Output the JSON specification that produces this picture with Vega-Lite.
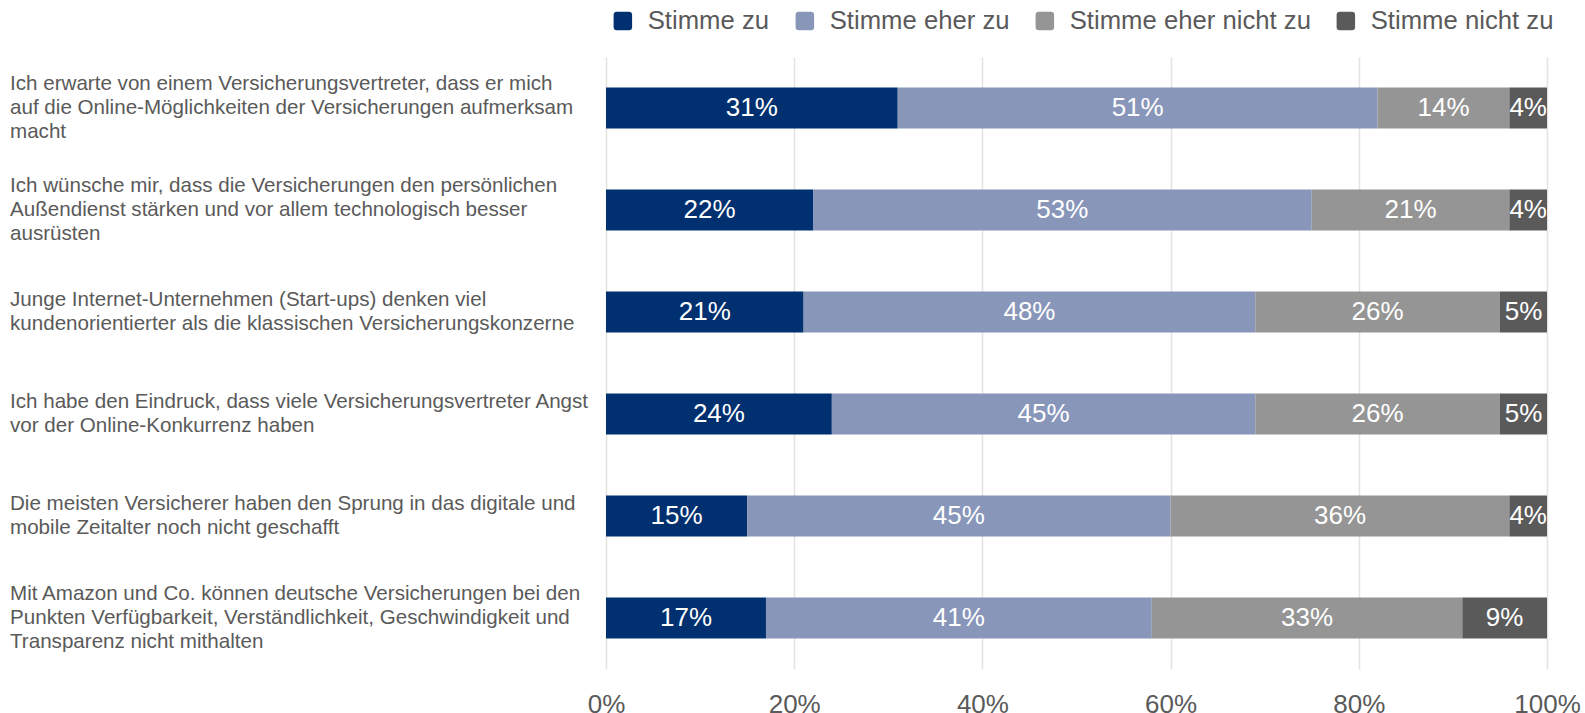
{
  "$schema": "https://vega.github.io/schema/vega-lite/v6.json",
  "width": 941,
  "height": 612,
  "autosize": "none",
  "padding": {"left": 606, "top": 57, "right": 38, "bottom": 44},
  "background": "white",
  "config": {
    "view": {"stroke": null},
    "font": "Liberation Sans"
  },
  "data": {
    "values": [
      {"frage": "Ich erwarte von einem Versicherungsvertreter, dass er mich\nauf die Online-Möglichkeiten der Versicherungen aufmerksam\nmacht", "antwort": "Stimme zu", "o": 1, "wert": 31},
      {"frage": "Ich erwarte von einem Versicherungsvertreter, dass er mich\nauf die Online-Möglichkeiten der Versicherungen aufmerksam\nmacht", "antwort": "Stimme eher zu", "o": 2, "wert": 51},
      {"frage": "Ich erwarte von einem Versicherungsvertreter, dass er mich\nauf die Online-Möglichkeiten der Versicherungen aufmerksam\nmacht", "antwort": "Stimme eher nicht zu", "o": 3, "wert": 14},
      {"frage": "Ich erwarte von einem Versicherungsvertreter, dass er mich\nauf die Online-Möglichkeiten der Versicherungen aufmerksam\nmacht", "antwort": "Stimme nicht zu", "o": 4, "wert": 4},
      {"frage": "Ich wünsche mir, dass die Versicherungen den persönlichen\nAußendienst stärken und vor allem technologisch besser\nausrüsten", "antwort": "Stimme zu", "o": 1, "wert": 22},
      {"frage": "Ich wünsche mir, dass die Versicherungen den persönlichen\nAußendienst stärken und vor allem technologisch besser\nausrüsten", "antwort": "Stimme eher zu", "o": 2, "wert": 53},
      {"frage": "Ich wünsche mir, dass die Versicherungen den persönlichen\nAußendienst stärken und vor allem technologisch besser\nausrüsten", "antwort": "Stimme eher nicht zu", "o": 3, "wert": 21},
      {"frage": "Ich wünsche mir, dass die Versicherungen den persönlichen\nAußendienst stärken und vor allem technologisch besser\nausrüsten", "antwort": "Stimme nicht zu", "o": 4, "wert": 4},
      {"frage": "Junge Internet-Unternehmen (Start-ups) denken viel\nkundenorientierter als die klassischen Versicherungskonzerne", "antwort": "Stimme zu", "o": 1, "wert": 21},
      {"frage": "Junge Internet-Unternehmen (Start-ups) denken viel\nkundenorientierter als die klassischen Versicherungskonzerne", "antwort": "Stimme eher zu", "o": 2, "wert": 48},
      {"frage": "Junge Internet-Unternehmen (Start-ups) denken viel\nkundenorientierter als die klassischen Versicherungskonzerne", "antwort": "Stimme eher nicht zu", "o": 3, "wert": 26},
      {"frage": "Junge Internet-Unternehmen (Start-ups) denken viel\nkundenorientierter als die klassischen Versicherungskonzerne", "antwort": "Stimme nicht zu", "o": 4, "wert": 5},
      {"frage": "Ich habe den Eindruck, dass viele Versicherungsvertreter Angst\nvor der Online-Konkurrenz haben", "antwort": "Stimme zu", "o": 1, "wert": 24},
      {"frage": "Ich habe den Eindruck, dass viele Versicherungsvertreter Angst\nvor der Online-Konkurrenz haben", "antwort": "Stimme eher zu", "o": 2, "wert": 45},
      {"frage": "Ich habe den Eindruck, dass viele Versicherungsvertreter Angst\nvor der Online-Konkurrenz haben", "antwort": "Stimme eher nicht zu", "o": 3, "wert": 26},
      {"frage": "Ich habe den Eindruck, dass viele Versicherungsvertreter Angst\nvor der Online-Konkurrenz haben", "antwort": "Stimme nicht zu", "o": 4, "wert": 5},
      {"frage": "Die meisten Versicherer haben den Sprung in das digitale und\nmobile Zeitalter noch nicht geschafft", "antwort": "Stimme zu", "o": 1, "wert": 15},
      {"frage": "Die meisten Versicherer haben den Sprung in das digitale und\nmobile Zeitalter noch nicht geschafft", "antwort": "Stimme eher zu", "o": 2, "wert": 45},
      {"frage": "Die meisten Versicherer haben den Sprung in das digitale und\nmobile Zeitalter noch nicht geschafft", "antwort": "Stimme eher nicht zu", "o": 3, "wert": 36},
      {"frage": "Die meisten Versicherer haben den Sprung in das digitale und\nmobile Zeitalter noch nicht geschafft", "antwort": "Stimme nicht zu", "o": 4, "wert": 4},
      {"frage": "Mit Amazon und Co. können deutsche Versicherungen bei den\nPunkten Verfügbarkeit, Verständlichkeit, Geschwindigkeit und\nTransparenz nicht mithalten", "antwort": "Stimme zu", "o": 1, "wert": 17},
      {"frage": "Mit Amazon und Co. können deutsche Versicherungen bei den\nPunkten Verfügbarkeit, Verständlichkeit, Geschwindigkeit und\nTransparenz nicht mithalten", "antwort": "Stimme eher zu", "o": 2, "wert": 41},
      {"frage": "Mit Amazon und Co. können deutsche Versicherungen bei den\nPunkten Verfügbarkeit, Verständlichkeit, Geschwindigkeit und\nTransparenz nicht mithalten", "antwort": "Stimme eher nicht zu", "o": 3, "wert": 33},
      {"frage": "Mit Amazon und Co. können deutsche Versicherungen bei den\nPunkten Verfügbarkeit, Verständlichkeit, Geschwindigkeit und\nTransparenz nicht mithalten", "antwort": "Stimme nicht zu", "o": 4, "wert": 9}
    ]
  },
  "encoding": {
    "y": {
      "field": "frage",
      "type": "nominal",
      "sort": null,
      "title": null,
      "scale": {"paddingInner": 0.6, "paddingOuter": 0.3},
      "axis": null
    }
  },
  "layer": [
    {
      "mark": {"type": "bar"},
      "encoding": {
        "x": {
          "field": "wert",
          "type": "quantitative",
          "stack": "zero",
          "title": null,
          "scale": {"domain": [0, 100], "nice": false},
          "axis": {
            "values": [0, 20, 40, 60, 80, 100],
            "labelExpr": "datum.value + '%'",
            "ticks": false,
            "domain": false,
            "grid": true,
            "gridColor": "#e3e3e3",
            "gridWidth": 1.5,
            "labelPadding": 22,
            "labelFontSize": 26,
            "labelColor": "#5a5a5a",
            "labelFont": "Liberation Sans",
            "labelFlush": false
          }
        },
        "order": {"field": "o", "type": "quantitative"},
        "color": {
          "field": "antwort",
          "type": "nominal",
          "title": null,
          "scale": {
            "domain": ["Stimme zu", "Stimme eher zu", "Stimme eher nicht zu", "Stimme nicht zu"],
            "range": ["#00306f", "#8896ba", "#959595", "#5a5a5a"]
          },
          "legend": {
            "orient": "none",
            "direction": "horizontal",
            "legendX": 4,
            "legendY": -49,
            "symbolType": "M-0.65,-1L0.65,-1Q1,-1 1,-0.65L1,0.65Q1,1 0.65,1L-0.65,1Q-1,1 -1,0.65L-1,-0.65Q-1,-1 -0.65,-1Z",
            "symbolSize": 342,
            "symbolStrokeWidth": 0,
            "labelFontSize": 25.7,
            "labelFont": "Liberation Sans",
            "labelColor": "#5a5a5a",
            "labelOffset": 12,
            "columnPadding": 22,
            "labelLimit": 400,
            "encode": {
              "symbols": {
                "update": {
                  "fill": [
                    {"test": "datum.value === 'Stimme zu'", "value": "#0a4a8c"},
                    {"scale": "color", "field": "value"}
                  ]
                }
              }
            }
          }
        }
      }
    },
    {
      "mark": {"type": "text", "color": "white", "fontSize": 26, "font": "Liberation Sans", "baseline": "middle", "text": {"expr": "datum.wert + '%'"}},
      "encoding": {
        "x": {"field": "wert", "type": "quantitative", "stack": "zero", "bandPosition": 0.5},
        "order": {"field": "o", "type": "quantitative"}
      }
    },
    {
      "transform": [{"filter": "datum.o == 1"}],
      "mark": {"type": "text", "align": "left", "baseline": "middle", "dx": -596, "dy": {"expr": "-(length(split(datum.frage, '\\n')) - 1) * 12"}, "lineBreak": "\n", "lineHeight": 24, "fontSize": 20.6, "font": "Liberation Sans", "color": "#5a5a5a"},
      "encoding": {
        "x": {"datum": 0},
        "text": {"field": "frage", "type": "nominal"}
      }
    }
  ]
}
